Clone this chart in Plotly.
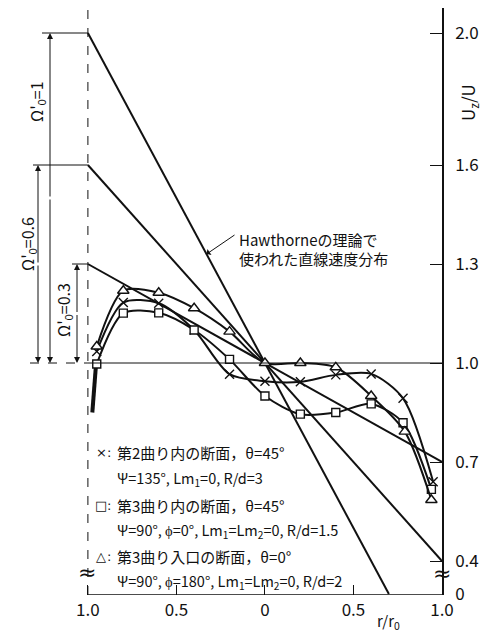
import plotly.graph_objects as go

# ---------------- data ----------------
# measured profiles (r/r0, left side negative)
x_cross = [-0.95, -0.80, -0.60, -0.40, -0.20, 0.00, 0.20, 0.40, 0.60, 0.78, 0.95]
y_cross = [1.035, 1.183, 1.181, 1.100, 0.966, 0.945, 0.943, 0.964, 0.967, 0.893, 0.640]

x_square = [-0.95, -0.80, -0.60, -0.40, -0.20, 0.00, 0.20, 0.40, 0.60, 0.78, 0.94]
y_square = [0.997, 1.151, 1.152, 1.100, 1.011, 0.900, 0.845, 0.850, 0.876, 0.819, 0.617]

x_tri = [-0.95, -0.80, -0.60, -0.40, -0.20, 0.00, 0.20, 0.40, 0.60, 0.79, 0.94]
y_tri = [1.050, 1.219, 1.213, 1.166, 1.095, 1.000, 1.000, 0.987, 0.900, 0.792, 0.585]

wall_x = [-0.955, -0.975]
wall_y = [0.990, 0.850]

# Hawthorne linear distributions (end points)
omega_vals = [1, 0.6, 0.3]
omega_labels = ["1", "0.6", "0.3"]
hw_x = [[-1.0, 0.70], [-1.0, 1.0], [-1.0, 1.0]]
hw_y = [[2.0, 0.30], [1.6, 0.40], [1.3, 0.70]]

x_tickvals = [-1.0, -0.5, 0.0, 0.5, 1.0]
x_ticktext = ["1.0", "0.5", "0", "0.5", "1.0"]
y_tickvals = [0.3, 0.4, 0.7, 1.0, 1.3, 1.6, 2.0]
y_ticktext = ["0", "0.4", "0.7", "1.0", "1.3", "1.6", "2.0"]

legend_lines = [
    ("×", "第2曲り内の断面，θ=45°"),
    (None, "Ψ=135°, Lm<sub>1</sub>=0, R/d=3"),
    ("□", "第3曲り内の断面，θ=45°"),
    (None, "Ψ=90°, ϕ=0°, Lm<sub>1</sub>=Lm<sub>2</sub>=0, R/d=1.5"),
    ("△", "第3曲り入口の断面，θ=0°"),
    (None, "Ψ=90°, ϕ=180°, Lm<sub>1</sub>=Lm<sub>2</sub>=0, R/d=2"),
]

# ---------------- layout helpers (page pixel coordinates) ----------------
OFF = 8                      # page body margin
W, H = 490 - OFF, 636 - OFF
PL, PR, PT, PB = 10, 442, 8, 595   # plot area in page px
ML, MR, MT, MB = PL - OFF, (490 - PR), PT - OFF, (636 - PB)
XMIN, XMAX = -1.44, 1.0
YMIN = 1 + (363 - PB) / 330
YMAX = 1 + (363 - PT) / 330
PW = PR - PL
PH = PB - PT


def X(px):
    return XMIN + (px - PL) / PW * (XMAX - XMIN)


def Y(py):
    return YMIN + (PB - py) / PH * (YMAX - YMIN)


def XP(px):
    return (px - PL) / PW


def YP(py):
    return (PB - py) / PH


FONT = "Noto Sans CJK JP"
INK = "#111111"

fig = go.Figure()

# Hawthorne straight lines
for xs, ys in zip(hw_x, hw_y):
    fig.add_trace(go.Scatter(x=xs, y=ys, mode="lines",
                             line=dict(color=INK, width=2), hoverinfo="skip"))

# wall segment
fig.add_trace(go.Scatter(x=wall_x, y=wall_y, mode="lines",
                         line=dict(color=INK, width=4), hoverinfo="skip"))

# measured curves
series = [
    (x_cross, y_cross, "x-thin", 9),
    (x_square, y_square, "square", 8),
    (x_tri, y_tri, "triangle-up", 10),
]
for xs, ys, sym, sz in series:
    fig.add_trace(go.Scatter(
        x=xs, y=ys, mode="lines+markers",
        line=dict(color=INK, width=2, shape="spline", smoothing=0.8),
        marker=dict(symbol=sym, size=sz, color="white",
                    line=dict(color=INK, width=1.4)),
        hoverinfo="skip"))

shapes = []
thin = dict(color=INK, width=1)
# left frame (dashed) and bottom axis
shapes.append(dict(type="line", x0=-1, x1=-1, y0=YMIN, y1=YMAX,
                   line=dict(color=INK, width=1, dash="dash")))
shapes.append(dict(type="line", x0=-1, x1=1, y0=YMIN, y1=YMIN, line=dict(color=INK, width=1.5)))
# y = 1.0 line
shapes.append(dict(type="line", x0=-1, x1=1, y0=1.0, y1=1.0, line=thin))
shapes.append(dict(type="line", x0=X(30), x1=-1, y0=1.0, y1=1.0,
                   line=dict(color=INK, width=1, dash="dash")))

# dimension lines for Omega
dim_px = [50, 38, 77]          # vertical line x (px)
ext_px = [42, 33, 72]          # extension line start (px)
lab_px = [36, 27, 63]          # label centre x (px)
lab_py = [102, 244, 310]       # label centre y (px)
annotations = []
for om, lab, dx, ex, lx, ly, ys in zip(omega_vals, omega_labels, dim_px, ext_px,
                                       lab_px, lab_py, hw_y):
    ytop = ys[0]
    shapes.append(dict(type="line", x0=X(ex), x1=-1, y0=ytop, y1=ytop, line=thin))
    ymid = (ytop + 1.0) / 2
    for yend in (ytop, 1.0):
        annotations.append(dict(x=X(dx), y=yend, ax=X(dx), ay=ymid,
                                xref="x", yref="y", axref="x", ayref="y",
                                text="", showarrow=True, arrowhead=2,
                                arrowsize=1.2, arrowwidth=1, arrowcolor=INK))
    annotations.append(dict(x=X(lx), y=Y(ly), xref="x", yref="y",
                            xanchor="center", yanchor="middle",
                            text="Ω'<sub>0</sub>=" + lab, textangle=-90,
                            showarrow=False, font=dict(family=FONT, size=16, color=INK)))

# Hawthorne annotation
annotations.append(dict(x=-0.33, y=1.33, ax=X(236), ay=Y(234), xref="x", yref="y",
                        axref="x", ayref="y", text="", showarrow=True,
                        arrowhead=1, arrowsize=1.2, arrowwidth=1, arrowcolor=INK))
annotations.append(dict(x=X(237), y=Y(239), xref="x", yref="y", xanchor="left",
                        yanchor="middle", text="Hawthorneの理論で", showarrow=False,
                        font=dict(family=FONT, size=15, color=INK)))
annotations.append(dict(x=X(237), y=Y(258), xref="x", yref="y", xanchor="left",
                        yanchor="middle", text="使われた直線速度分布", showarrow=False,
                        font=dict(family=FONT, size=15, color=INK)))

# legend text
leg_py = [452, 478, 505, 530, 556, 581]
for (sym, txt), py in zip(legend_lines, leg_py):
    if sym:
        annotations.append(dict(x=X(101), y=Y(py), xref="x", yref="y",
                                xanchor="center", yanchor="middle",
                                text=sym, showarrow=False,
                                font=dict(family="DejaVu Sans", size=13, color=INK)))
        annotations.append(dict(x=X(109), y=Y(py), xref="x", yref="y",
                                xanchor="center", yanchor="middle",
                                text=":", showarrow=False,
                                font=dict(family="DejaVu Sans", size=13, color=INK)))
    annotations.append(dict(x=X(115), y=Y(py), xref="x", yref="y", xanchor="left",
                            yanchor="middle", text=txt, showarrow=False,
                            font=dict(family=FONT, size=15 if sym else 14.5, color=INK)))

# break marks
for px, py in [(87, 572), (442, 573)]:
    annotations.append(dict(x=XP(px), y=YP(py), xref="paper", yref="paper",
                            xanchor="center", yanchor="middle",
                            text="≈", showarrow=False,
                            font=dict(family="DejaVu Sans", size=22, color=INK)))

# axis titles
annotations.append(dict(x=XP(468), y=YP(103), xref="paper", yref="paper",
                        xanchor="center", yanchor="middle",
                        text="U<sub>z</sub>/U", textangle=-90, showarrow=False,
                        font=dict(family=FONT, size=17, color=INK)))
annotations.append(dict(x=XP(388), y=YP(621), xref="paper", yref="paper",
                        xanchor="center", yanchor="middle",
                        text="r/r<sub>0</sub>", showarrow=False,
                        font=dict(family=FONT, size=15, color=INK)))

fig.update_layout(
    width=W, height=H,
    margin=dict(l=ML, r=MR, t=MT, b=MB, pad=0),
    paper_bgcolor="white", plot_bgcolor="white",
    showlegend=False,
    shapes=shapes, annotations=annotations,
    xaxis=dict(range=[XMIN, XMAX], showgrid=False, zeroline=False, showline=False,
               tickvals=x_tickvals, ticktext=x_ticktext, ticks="inside", ticklen=10,
               tickcolor=INK, tickwidth=1, ticklabelstandoff=3,
               tickfont=dict(family=FONT, size=17, color=INK)),
    yaxis=dict(range=[YMIN, YMAX], side="right", showgrid=False, zeroline=False,
               showline=True, linecolor=INK, linewidth=1.5, mirror=False,
               tickvals=y_tickvals, ticktext=y_ticktext, ticks="inside", ticklen=12,
               tickcolor=INK, tickwidth=1, ticklabelstandoff=8,
               tickfont=dict(family=FONT, size=17, color=INK)),
)

fig.write_html("out.html")
